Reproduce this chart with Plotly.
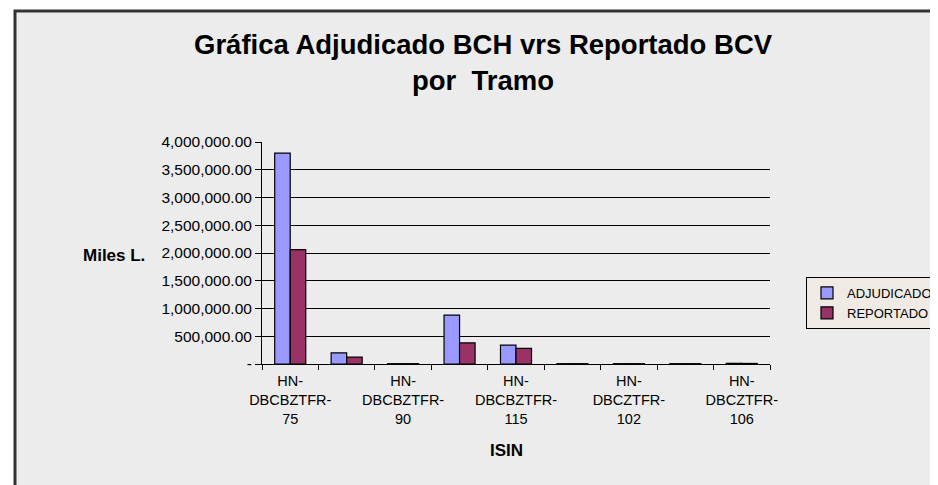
import plotly.graph_objects as go

categories = [
    "HN-DBCBZTFR-75", "HN-DBCBZTFR-82", "HN-DBCBZTFR-90", "HN-DBCBZTFR-100",
    "HN-DBCBZTFR-115", "HN-DBCZTFR-101", "HN-DBCZTFR-102", "HN-DBCZTFR-104",
    "HN-DBCZTFR-106",
]
shown_labels = [True, False, True, False, True, False, True, False, True]
adjudicado = [3800000, 200000, 6000, 880000, 340000, 6000, 6000, 6000, 12000]
reportado = [2060000, 125000, 6000, 380000, 280000, 6000, 6000, 6000, 10000]
y_ticks = [0, 500000, 1000000, 1500000, 2000000, 2500000, 3000000, 3500000, 4000000]

FONT = "Arial, Liberation Sans, sans-serif"

def fmt(v):
    return "-" if v == 0 else f"{v:,.2f}"

def cat_label(name, show):
    if not show:
        return ""
    head, mid, num = name.split("-")
    return f"{head}-<br>{mid}-<br>{num}"

fig = go.Figure()
fig.add_bar(x=categories, y=adjudicado, name="ADJUDICADO",
            marker=dict(color="#9999FF", line=dict(color="black", width=1.2)))
fig.add_bar(x=categories, y=reportado, name="REPORTADO",
            marker=dict(color="#993366", line=dict(color="black", width=1.2)))

OFF = 8  # page body margin
FW, FH = 938, 485
# plot area in screen pixels
SX0, SX1, SY0, SY1 = 262, 770, 142, 364
L = SX0 - OFF
R = FW - (SX1 - OFF)
T = SY0 - OFF
B = FH - (SY1 - OFF)
W, H = SX1 - SX0, SY1 - SY0

def px(xs):
    return (xs - SX0) / W

def py(ys):
    return (SY1 - ys) / H

fig.update_layout(
    width=FW, height=FH,
    margin=dict(l=L, r=R, t=T, b=B, autoexpand=False),
    paper_bgcolor="white",
    plot_bgcolor="#C0C0C0",
    barmode="group",
    bargap=0.45,
    bargroupgap=0.0,
    font=dict(family=FONT, color="black", size=12),
    xaxis=dict(
        type="category",
        tickmode="array",
        tickvals=categories,
        ticktext=[cat_label(c, s) for c, s in zip(categories, shown_labels)],
        tickson="boundaries",
        tickangle=0,
        ticks="outside", ticklen=5, tickcolor="black",
        ticklabelstandoff=4,
        showline=True, linecolor="black", linewidth=1,
        showgrid=False,
        tickfont=dict(family=FONT, size=14.5, color="black"),
    ),
    yaxis=dict(
        range=[0, 4000000],
        tickmode="array",
        tickvals=y_ticks,
        ticktext=[fmt(v) for v in y_ticks],
        ticks="outside", ticklen=6, tickcolor="black",
        showline=True, linecolor="black", linewidth=1,
        showgrid=True, gridcolor="#000000", gridwidth=1,
        zeroline=False,
        tickfont=dict(family=FONT, size=15.5, color="black"),
    ),
    legend=dict(
        x=px(806), y=py(277), xanchor="left", yanchor="top",
        bgcolor="#EFEAE4", bordercolor="black", borderwidth=1,
        font=dict(family=FONT, size=13, color="black"),
        itemwidth=30, tracegroupgap=0,
    ),
    showlegend=True,
)

fig.add_shape(
    type="rect", xref="paper", yref="paper",
    x0=px(15), x1=px(960), y0=py(520), y1=py(11),
    fillcolor="#ECECEC", line=dict(color="#333333", width=3), layer="below",
)

fig.add_annotation(
    text="<b>Gráfica Adjudicado BCH vrs Reportado BCV<br>por  Tramo</b>",
    xref="paper", yref="paper", x=px(483), y=py(27),
    xanchor="center", yanchor="top", showarrow=False,
    font=dict(family=FONT, size=27.5, color="black"),
)

fig.add_annotation(
    text="<b>Miles L.</b>", xref="paper", yref="paper",
    x=px(114), y=py(255), xanchor="center", yanchor="middle",
    showarrow=False, font=dict(family=FONT, size=17, color="black"),
)

fig.add_annotation(
    text="<b>ISIN</b>", xref="paper", yref="paper",
    x=px(506), y=py(450), xanchor="center", yanchor="middle",
    showarrow=False, font=dict(family=FONT, size=17, color="black"),
)

fig.write_html("out.html")
